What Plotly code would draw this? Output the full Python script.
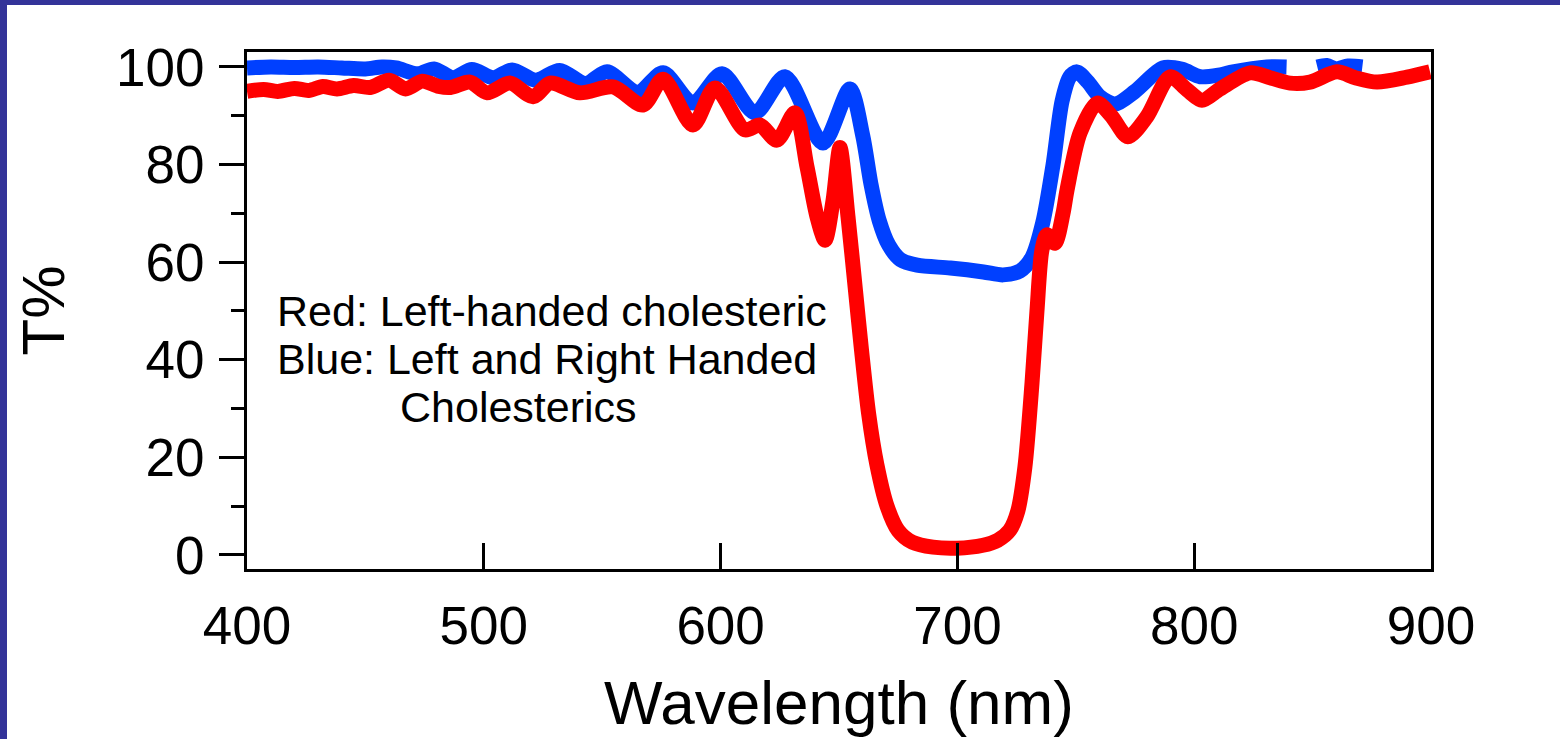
import plotly.graph_objects as go

# ---- data ----
blue_wl = [400, 410, 420, 430, 440, 450, 457, 463, 472, 479, 487, 495, 504, 512, 522, 532,
           543, 552, 565, 575.7, 588.3, 600.6, 614.5, 627.2, 643.2, 654.6, 660, 663.5, 667,
           671, 676, 683, 697, 711, 719.3, 726.4, 731.5, 736, 740.4, 744.2, 747.5, 750.5, 755,
           760, 766.6, 775, 786.8, 795, 802.5, 811, 816.4, 830.7, 839,
           845,
           852, 856, 860, 865, 871]
blue_T = [99.8, 100, 99.9, 100, 99.8, 99.6, 100, 99.8, 98.6, 99.6, 97.8, 99.5, 97.8, 99.4, 97.3, 99.3,
          96.6, 99.0, 94.8, 98.8, 92.6, 98.6, 90.6, 98.0, 84.4, 95.5, 86, 76, 68.5,
          63.5, 60.5, 59.4, 58.8, 58.0, 57.4, 58.2, 61, 68, 80, 93, 98, 99, 97,
          94, 92.4, 95, 99.8, 99.5, 98, 98.4, 99, 100, 100,
          None,
          100, 100.3, 99.6, 100.2, 100]

red_wl = [400, 407, 413, 420, 426, 432, 438, 445, 452, 460, 467, 474, 481, 486,
          494.2, 501.4, 511, 520.8, 528, 540.6, 554.6, 567.2, 575.7, 588.3, 597.6, 610.3, 616.6,
          623.8, 631.4, 636.5, 640.7, 644.1, 647.5, 650.4, 653.8, 657, 659.5, 662.5, 666, 670.3,
          675, 681, 689.7, 699.8, 710.8, 717, 722, 725.5, 728.5, 731.5, 733.6, 735.7, 737.8, 741.2,
          744.6, 746.3, 751.8, 759, 765, 772, 780, 789.8, 797, 803.3, 810.9, 823.6, 832, 840.5,
          848.9, 860.3, 868, 877.2, 889.9, 899.6]
red_T = [95, 95.4, 95.0, 95.6, 95.2, 96.0, 95.5, 96.2, 95.8, 97.3, 95.5, 97.1, 96.0, 95.8,
         96.9, 94.7, 96.7, 93.9, 96.7, 94.7, 95.9, 92.2, 97.5, 88.1, 95.7, 87.1, 88.1,
         85, 90.6, 79.5, 69.3, 64.5, 72.7, 83.5, 69.3, 54, 42, 29, 18.5, 10,
         5, 2.6, 1.6, 1.4, 2, 3, 5, 9, 18, 35.2, 50, 62.5, 65.6, 63.9,
         70, 74.8, 86.5, 92.6, 90, 85.7, 89.8, 98, 95.3, 93.2, 95.5, 98.8, 97.8, 96.7,
         96.9, 99, 97.8, 96.9, 97.9, 99]

x_ticks = [400, 500, 600, 700, 800, 900]
y_ticks = [0, 20, 40, 60, 80, 100]

note_lines = ["Red: Left-handed cholesteric",
              "Blue: Left and Right Handed",
              "Cholesterics"]

FONT = "Arial, 'Liberation Sans', sans-serif"
BLUE = "#0040ff"
RED = "#ff0000"
FRAME = "#333399"

W, H = 1560, 739
ML, MR, MT, MB = 247, 129, 52, 170
PW, PH = W - ML - MR, H - MT - MB


def px_x(px):
    return (px - ML) / PW


def px_y(py):
    return (H - MB - py) / PH


fig = go.Figure()
fig.add_trace(go.Scatter(x=blue_wl, y=blue_T, mode="lines",
                         line=dict(color=BLUE, width=15, shape="spline", smoothing=0.8),
                         connectgaps=False, showlegend=False))
fig.add_trace(go.Scatter(x=red_wl, y=red_T, mode="lines",
                         line=dict(color=RED, width=15, shape="spline", smoothing=0.8),
                         showlegend=False))

# frame bands (top and left) of the slide
fig.add_shape(type="rect", xref="paper", yref="paper", layer="below",
              x0=px_x(0), x1=px_x(7), y0=px_y(H), y1=px_y(0),
              fillcolor=FRAME, line=dict(width=0))
fig.add_shape(type="rect", xref="paper", yref="paper", layer="below",
              x0=px_x(0), x1=px_x(W), y0=px_y(5), y1=px_y(0),
              fillcolor=FRAME, line=dict(width=0))

note_pos = [(275, 311), (275, 359), (398, 407)]
for txt, (ax, ay) in zip(note_lines, note_pos):
    fig.add_annotation(text=txt, xref="paper", yref="paper", x=px_x(ax), y=px_y(ay),
                       xanchor="left", yanchor="middle", showarrow=False,
                       font=dict(family=FONT, size=43, color="black"))

fig.update_layout(
    width=W, height=H,
    margin=dict(l=ML, r=MR, t=MT, b=MB, pad=0),
    paper_bgcolor="white", plot_bgcolor="white",
    font=dict(family=FONT, color="black"),
    xaxis=dict(range=[400, 900], tickvals=x_ticks, ticktext=[str(v) for v in x_ticks],
               ticks="inside", ticklen=26, tickwidth=3, tickcolor="black",
               showline=True, linewidth=3, linecolor="black", mirror=True,
               showgrid=False, zeroline=False,
               tickfont=dict(size=53, family=FONT), ticklabelstandoff=8,
               title=dict(text="Wavelength (nm)", font=dict(size=62, family=FONT), standoff=28)),
    yaxis=dict(range=[-2.87, 103.07], tickvals=y_ticks, ticktext=[str(v) for v in y_ticks],
               ticks="outside", ticklen=25, tickwidth=3, tickcolor="black",
               minor=dict(dtick=10, ticks="outside", ticklen=13, tickwidth=3, tickcolor="black"),
               showline=True, linewidth=3, linecolor="black", mirror=True,
               showgrid=False, zeroline=False,
               tickfont=dict(size=53, family=FONT), ticklabelstandoff=4,
               title=dict(text="T%", font=dict(size=60, family=FONT), standoff=32)),
)

fig.write_html("out.html", config={"displayModeBar": False},
               post_script="document.body.style.margin='0';document.body.style.overflow='hidden';")
